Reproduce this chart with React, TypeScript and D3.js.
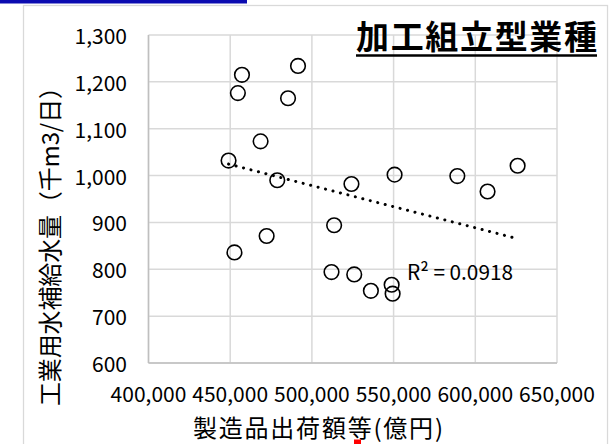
import React from "react";
import * as d3 from "d3";

const shipments = [449000, 452600, 454700, 457200, 468600, 472300, 478800, 485400, 491500, 512000, 513600, 524200, 525900, 536100, 548800, 549400, 550600, 589000, 607500, 625900];
const waterSupply = [1032, 836, 1176, 1215, 1073, 871, 990, 1165, 1234, 794, 894, 982, 789, 754, 767, 748, 1002, 999, 966, 1021];
const xTickValues = [400000, 450000, 500000, 550000, 600000, 650000];
const yTickValues = [600, 700, 800, 900, 1000, 1100, 1200, 1300];
const chartTitle = "加工組立型業種";
const xAxisTitle = "製造品出荷額等(億円)";
const yAxisTitle = "工業用水補給水量（千m3/日）";
const r2Label = "R² = 0.0918";

const W = 612;
const H = 444;
const plot = { left: 148.5, right: 557, top: 35, bottom: 363 };
const FONT = "'Noto Sans CJK JP', 'Noto Sans', sans-serif";

export default function App() {
  const x = d3.scaleLinear().domain([400000, 650000]).range([plot.left, plot.right]);
  const y = d3.scaleLinear().domain([600, 1300]).range([plot.bottom, plot.top]);
  const fmt = d3.format(",");

  const pts = shipments.map((s, i) => ({ x: s, y: waterSupply[i] }));
  const mx = d3.mean(pts, (p) => p.x) as number;
  const my = d3.mean(pts, (p) => p.y) as number;
  const sxy = d3.sum(pts, (p) => (p.x - mx) * (p.y - my));
  const sxx = d3.sum(pts, (p) => (p.x - mx) * (p.x - mx));
  const slope = sxy / sxx;
  const icpt = my - slope * mx;
  const [x0, x1] = d3.extent(shipments) as [number, number];
  const trend = d3.line<number>().x((v) => x(v)).y((v) => y(icpt + slope * v));

  return (
    <svg width={W} height={H} style={{ position: "absolute", left: 0, top: 0, background: "#fff" }} fontFamily={FONT}>
      <rect x={0} y={0} width={W} height={H} fill="#fff" />
      <rect x={0} y={0} width={247} height={3.5} fill="#0b0bb0" />
      <rect x={23.5} y={5.5} width={584} height={460} fill="none" stroke="#d9d9d9" strokeWidth={1.25} />

      {yTickValues.map((t) => (
        <line key={"gy" + t} x1={plot.left} x2={plot.right} y1={y(t)} y2={y(t)} stroke="#d9d9d9" strokeWidth={1.5} />
      ))}
      {xTickValues.map((t) => (
        <line key={"gx" + t} x1={x(t)} x2={x(t)} y1={plot.top} y2={plot.bottom} stroke="#d9d9d9" strokeWidth={1.5} />
      ))}
      <line x1={plot.left} x2={plot.right} y1={plot.bottom} y2={plot.bottom} stroke="#bfbfbf" strokeWidth={1.5} />
      <line x1={plot.left} x2={plot.left} y1={plot.top} y2={plot.bottom} stroke="#bfbfbf" strokeWidth={1.5} />

      {yTickValues.map((t) => (
        <text key={"ty" + t} x={127} y={y(t)} textAnchor="end" dominantBaseline="central" fontSize={21} fill="#000">
          {fmt(t)}
        </text>
      ))}
      {xTickValues.map((t) => (
        <text key={"tx" + t} x={x(t)} y={393} textAnchor="middle" dominantBaseline="central" fontSize={21} fill="#000">
          {fmt(t)}
        </text>
      ))}

      <path d={trend([x0, x1]) as string} fill="none" stroke="#000" strokeWidth={3} strokeLinecap="round" strokeDasharray="0.1 7.6" />

      {pts.map((p, i) => (
        <circle key={"p" + i} cx={x(p.x)} cy={y(p.y)} r={7.3} fill="none" stroke="#000" strokeWidth={1.6} />
      ))}

      <text x={407} y={271} dominantBaseline="central" fontSize={21} fill="#000" textLength={106} lengthAdjust="spacingAndGlyphs">{r2Label}</text>

      <text x={356} y={49} fontSize={33} fontWeight="bold" fill="#000" textLength={241} lengthAdjust="spacing">{chartTitle}</text>
      <line x1={356} x2={597} y1={55.5} y2={55.5} stroke="#000" strokeWidth={2.5} />

      <text x={193} y={426} dominantBaseline="central" fontSize={24} fill="#000" textLength={250} lengthAdjust="spacing">{xAxisTitle}</text>
      <text transform="translate(48.5,406) rotate(-90)" x={0} y={0} dominantBaseline="central" fontSize={24} fill="#000" textLength={331} lengthAdjust="spacing">{yAxisTitle}</text>

      <rect x={354} y={439.5} width={7} height={5} fill="#ff0000" />
    </svg>
  );
}
